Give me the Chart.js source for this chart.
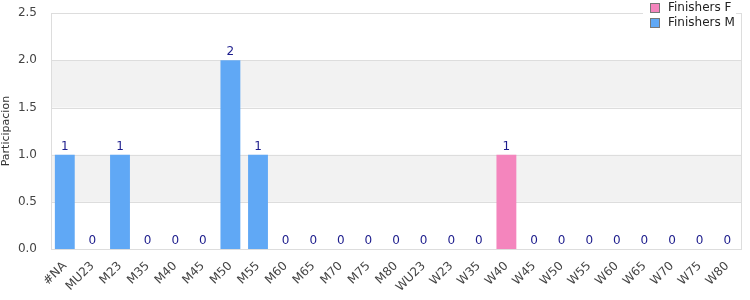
<!DOCTYPE html>
<html>
<head>
<meta charset="utf-8">
<script src="https://cdn.jsdelivr.net/npm/chart.js@4.4.1/dist/chart.umd.min.js"></script>
<style>
  html, body { margin: 0; padding: 0; background: #fff; }
  #wrap { width: 750px; height: 300px; }
</style>
</head>
<body>
<div id="wrap"><canvas id="c" width="750" height="300"></canvas></div>
<script>
const categories = ['#NA', 'MU23', 'M23', 'M35', 'M40', 'M45', 'M50', 'M55', 'M60', 'M65', 'M70', 'M75', 'M80',
  'WU23', 'W23', 'W35', 'W40', 'W45', 'W50', 'W55', 'W60', 'W65', 'W70', 'W75', 'W80'];
const finishersF = [0, 0, 0, 0, 0, 0, 0, 0, 0, 0, 0, 0, 0, 0, 0, 0, 1, 0, 0, 0, 0, 0, 0, 0, 0];
const finishersM = [1, 0, 1, 0, 0, 0, 2, 1, 0, 0, 0, 0, 0, 0, 0, 0, 0, 0, 0, 0, 0, 0, 0, 0, 0];
const yTicks = [0, 0.5, 1, 1.5, 2, 2.5];
const bands = [[0.5, 1.0], [1.5, 2.0]];

const FONT = 'DejaVu Sans';

// grey bands behind the bars + frame around plot
const bandsPlugin = {
  id: 'bands',
  beforeDatasetsDraw(chart) {
    const { ctx, chartArea: a, scales: { y } } = chart;
    ctx.save();
    ctx.fillStyle = '#f2f2f2';
    bands.forEach(([lo, hi]) => {
      const y1 = y.getPixelForValue(hi), y2 = y.getPixelForValue(lo);
      ctx.fillRect(a.left, y1, a.right - a.left, y2 - y1);
    });
    ctx.strokeStyle = '#dddddd';
    ctx.lineWidth = 1;
    yTicks.forEach(v => {
      const py = Math.round(y.getPixelForValue(v)) + 0.5;
      ctx.beginPath(); ctx.moveTo(a.left, py); ctx.lineTo(a.right, py); ctx.stroke();
    });
    ctx.strokeRect(Math.round(a.left) + 0.5, Math.round(a.top) + 0.5, Math.round(a.right - a.left), Math.round(a.bottom - a.top));
    ctx.restore();
  }
};

// totals above each stack
const totalsPlugin = {
  id: 'totals',
  afterDatasetsDraw(chart) {
    const { ctx, scales: { x, y } } = chart;
    ctx.save();
    ctx.font = '12px "' + FONT + '"';
    ctx.fillStyle = '#1c1c8c';
    ctx.textAlign = 'center';
    ctx.textBaseline = 'bottom';
    categories.forEach((c, i) => {
      const total = finishersF[i] + finishersM[i];
      ctx.fillText(String(total), x.getPixelForValue(i), y.getPixelForValue(total) - 2);
    });
    ctx.restore();
  }
};

// legend box in the top-right corner
const legendPlugin = {
  id: 'cornerLegend',
  afterDraw(chart) {
    const { ctx } = chart;
    const items = chart.data.datasets;
    ctx.save();
    ctx.fillStyle = '#ffffff';
    ctx.fillRect(643, 0, 93, 34);
    ctx.font = '12px "' + FONT + '"';
    ctx.textBaseline = 'middle';
    items.forEach((ds, i) => {
      const cy = 8 + i * 15;
      ctx.fillStyle = ds.backgroundColor;
      ctx.fillRect(651, cy - 4, 8, 8);
      ctx.strokeStyle = '#777777';
      ctx.lineWidth = 1;
      ctx.strokeRect(650.5, cy - 4.5, 9, 9);
      ctx.fillStyle = '#222222';
      ctx.fillText(ds.label, 668, cy);
    });
    ctx.restore();
  }
};

new Chart(document.getElementById('c'), {
  type: 'bar',
  data: {
    labels: categories,
    datasets: [
      { label: 'Finishers F', data: finishersF, backgroundColor: '#f485bd' },
      { label: 'Finishers M', data: finishersM, backgroundColor: '#60a8f5' }
    ]
  },
  options: {
    responsive: false,
    animation: false,
    layout: { padding: { top: 2, right: 9, left: 0, bottom: 0 } },
    datasets: { bar: { barPercentage: 0.72, categoryPercentage: 1 } },
    plugins: { legend: { display: false }, tooltip: { enabled: false } },
    scales: {
      x: {
        stacked: true,
        grid: { display: false },
        border: { display: false },
        ticks: {
          autoSkip: false, maxRotation: 45, minRotation: 45,
          color: '#444', font: { family: FONT, size: 12 }, padding: 2
        },
        afterFit(s) { s.height = 51; }
      },
      y: {
        stacked: true,
        min: 0, max: 2.5,
        grid: { display: false },
        border: { display: false },
        ticks: {
          stepSize: 0.5, color: '#444', font: { family: FONT, size: 12 }, padding: 6,
          callback: v => Number(v).toFixed(1)
        },
        title: { display: true, text: 'Participacion', color: '#333', font: { family: FONT, size: 11 }, padding: 0 },
        afterFit(s) { s.width = 51; }
      }
    }
  },
  plugins: [bandsPlugin, totalsPlugin, legendPlugin]
});
</script>
</body>
</html>
